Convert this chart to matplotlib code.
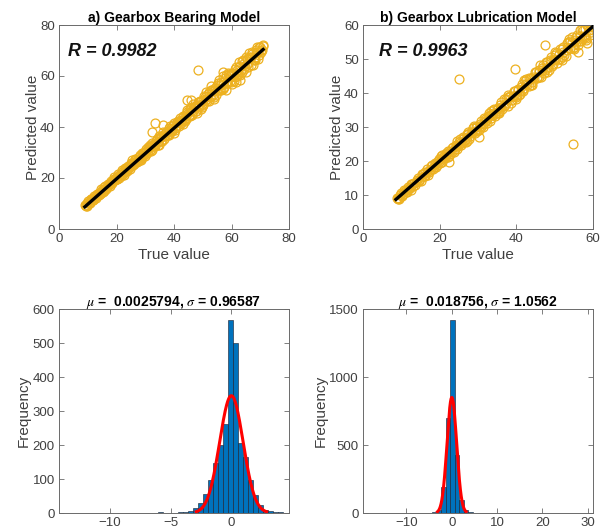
import matplotlib
matplotlib.use('Agg')
import matplotlib.pyplot as plt
import numpy as np

plt.rcParams['font.family'] = ['Liberation Sans', 'DejaVu Sans']
plt.rcParams['mathtext.fontset'] = 'stix'

# ---------------- data ----------------
# panel a: (true value, prediction offset)
pairs_a = [
    (9.1,0.3),(9.6,-0.5),(10.2,0.6),(10.9,-0.2),(11.3,0.4),(11.9,-0.7),(12.6,0.1),(13.1,0.6),(13.8,-0.4),(14.2,-0.6),
    (14.9,0.3),(15.5,-0.5),(16.0,0.8),(16.7,-0.2),(17.3,0.5),(17.8,-0.9),(18.4,0.1),(19.1,0.7),(19.6,-0.4),(20.3,-0.8),
    (20.8,0.4),(21.5,-0.7),(22.0,1.0),(22.6,-0.3),(23.3,0.6),(23.8,-1.0),(24.5,0.2),(25.0,0.8),(25.7,-0.5),(26.2,-0.9),
    (26.8,0.5),(27.5,-0.8),(28.0,1.1),(28.7,-0.3),(29.2,0.7),(29.9,-1.2),(30.4,0.2),(31.0,1.0),(31.7,-0.6),(32.2,-1.1),
    (32.9,0.5),(33.4,-0.9),(34.1,1.3),(34.6,-0.3),(35.2,0.8),(35.9,-1.4),(36.4,0.2),(37.1,1.1),(37.6,-0.6),(38.2,-1.2),
    (38.9,0.6),(39.4,-1.0),(40.1,1.4),(40.6,-0.4),(41.3,0.9),(41.8,-1.5),(42.4,0.2),(43.1,1.2),(43.6,-0.7),(44.3,-1.3),
    (44.8,0.6),(45.5,-1.1),(46.0,1.6),(46.6,-0.4),(47.3,1.0),(47.8,-1.7),(48.5,0.3),(49.0,1.3),(49.7,-0.8),(50.2,-1.5),
    (50.8,0.8),(51.5,-1.4),(52.0,1.9),(52.7,-0.5),(53.2,1.2),(53.9,-2.0),(54.4,0.3),(55.0,1.6),(55.7,-1.0),(56.2,-1.8),
    (56.9,0.9),(57.4,-1.6),(58.1,2.1),(58.6,-0.6),(59.2,1.4),(59.9,-2.2),(60.4,0.4),(61.1,1.7),(61.6,-1.1),(62.3,-2.0),
    (62.8,1.0),(63.5,-1.8),(64.0,2.2),(64.6,-0.7),(65.3,1.4),(65.8,-2.4),(66.5,0.4),(67.0,1.6),(67.7,-1.2),(68.2,-2.1),
    (68.8,0.8),(69.5,-1.3),(70.0,1.2),(70.6,-0.5),(71.0,0.6),
    (9.4,0.0),(10.5,-0.3),(11.6,0.2),(12.9,-0.1),(14.0,0.2),(15.2,0.0),(16.4,-0.3),(17.6,0.3),(18.8,-0.1),(19.9,0.2),
    (21.2,-0.2),(22.3,0.3),(23.5,0.0),(24.8,-0.4),(26.0,0.3),(27.2,0.0),(28.4,-0.4),(29.6,0.4),(30.8,-0.2),(32.0,0.4),
    (33.2,-0.3),(34.4,0.0),(35.6,0.5),(36.8,-0.5),(38.0,0.3),(39.2,0.0),(40.4,-0.6),(41.6,0.5),(42.8,-0.2),(44.0,0.6),
    (45.2,-0.5),(46.4,0.1),(47.6,0.6),(48.8,-0.6),(50.0,0.4),(51.2,-0.1),(52.4,-0.8),(53.6,0.6),(54.8,-0.4),(56.0,0.5),
    (57.2,-0.3),(58.4,-1.0),(59.6,0.7),(60.8,-0.6),(62.0,0.3),(63.2,-1.0),(64.4,0.8),(65.6,-0.5),(66.8,0.5),(68.0,-0.6),
    (69.2,0.3),(70.3,-0.2),
    (9.3,-0.2),(9.9,0.4),(10.7,-0.6),(11.1,0.7),(11.7,-0.3),(12.3,0.5),(12.8,-0.8),(13.4,0.3),(14.5,-0.2),(14.7,0.8),
    (15.3,-0.8),(15.8,0.5),(16.2,-0.6),(16.9,0.9),(17.5,-0.3),(18.1,0.6),(18.6,-0.7),(19.3,0.4),(20.0,-0.5),(20.6,0.9),
    (21.0,-0.9),(21.8,0.6),(22.2,-0.6),(22.9,1.0),(23.6,-0.4),(24.1,0.7),(24.6,-1.1),(25.3,0.5),(25.9,-0.3),(26.5,1.1),
    (27.0,-0.6),(27.8,0.4),(28.2,-1.0),(28.9,0.9),(29.4,-0.5),(30.1,1.2),(30.6,-0.9),(31.3,0.5),(31.9,-1.3),(32.5,1.1),
    (33.0,-0.5),(33.7,0.7),(34.3,-1.2),(34.9,1.4),(35.4,-0.7),(36.1,0.9),(36.6,-1.5),(37.3,0.6),(37.9,-0.9),(38.4,1.4),
    (39.1,-0.6),(39.7,1.0),(40.3,-1.6),(40.9,0.9),(41.5,-0.8),(42.1,1.5),(42.6,-1.2),(43.3,0.6),(43.9,-1.6),(44.6,1.2),
    (45.1,-0.7),(45.7,1.7),(46.3,-1.4),(46.9,0.8),(47.5,-1.2),(48.2,1.6),(48.7,-1.0),(49.3,0.9),(49.9,-1.9),(50.5,1.5),
    (51.1,-0.6),(51.7,1.1),(52.3,-2.0),(52.9,1.8),(53.5,-1.1),(54.2,0.9),(54.7,-2.2),(55.3,1.9),(55.9,-1.5),(56.5,1.2),
    (57.1,-2.3),(57.7,1.7),(58.3,-0.9),(58.9,2.3),(59.5,-1.6),(60.1,1.0),(60.7,-2.5),(61.4,2.1),(61.9,-1.4),(62.5,0.9),
    (63.1,-2.8),(63.8,1.9),(64.3,-1.5),(64.9,2.4),(65.5,-0.9),(66.2,1.1),(66.8,-2.6),(67.3,2.3),(67.9,-1.7),(68.5,1.5),
    (69.1,-2.3),(69.7,1.8),(70.3,-0.9),(70.8,1.3),
    (36.0,2.0),(40.0,-2.2),(44.5,2.3),(48.0,-2.6),(51.0,2.6),(54.0,-3.0),(57.0,3.0),(60.0,-3.3),(62.5,2.8),(63.0,-4.6),
    (65.0,-3.6),(66.0,3.0),(67.5,-3.2),(69.0,2.2),(61.5,-3.8),(58.0,-3.4),(55.5,2.8),(53.0,3.0),(49.5,-2.4),(46.5,2.4),
    (43.0,-2.0),(38.5,1.8),(34.8,-1.8),(31.5,1.6),(28.5,-1.5),(25.5,1.4),(22.5,-1.3),(19.0,1.2),
    (48.5,13.9),(33.4,8.0),(32.2,6.0),(36.3,4.5),(44.4,6.2),(45.8,4.6),(57.0,4.5),(61.2,-1.5),
]

# panel b: (true value, prediction offset)
pairs_b = [
    (8.8,0.2),(9.3,-0.4),(9.9,0.6),(10.4,-0.2),(10.9,0.4),(11.5,-0.6),(12.0,0.1),(12.6,0.5),(13.1,-0.4),(13.6,-0.7),
    (14.2,0.3),(14.7,-0.5),(15.3,0.8),(15.8,-0.2),(16.3,0.5),(16.9,-0.9),(17.4,0.1),(18.0,0.7),(18.5,-0.4),(19.0,-0.8),
    (19.6,0.4),(20.1,-0.7),(20.7,1.0),(21.2,-0.3),(21.7,0.6),(22.3,-1.0),(22.8,0.2),(23.4,0.8),(23.9,-0.5),(24.4,-0.9),
    (25.0,0.5),(25.5,-0.8),(26.1,1.0),(26.6,-0.3),(27.1,0.7),(27.7,-1.1),(28.2,0.2),(28.8,0.9),(29.3,-0.6),(29.8,-1.0),
    (30.4,0.5),(30.9,-0.9),(31.5,1.1),(32.0,-0.3),(32.5,0.8),(33.1,-1.2),(33.6,0.2),(34.2,1.0),(34.7,-0.6),(35.2,-1.1),
    (35.8,0.6),(36.3,-1.0),(36.9,1.2),(37.4,-0.4),(37.9,0.9),(38.5,-1.3),(39.0,0.2),(39.6,1.1),(40.1,-0.7),(40.6,-1.2),
    (41.2,0.6),(41.7,-1.1),(42.3,1.3),(42.8,-0.4),(43.3,1.0),(43.9,-1.4),(44.4,0.3),(45.0,1.2),(45.5,-0.8),(46.0,-1.3),
    (46.6,0.8),(47.1,-1.2),(47.7,1.4),(48.2,-0.5),(48.7,1.1),(49.3,-1.5),(49.8,0.3),(50.4,1.3),(50.9,-0.9),(51.4,-1.4),
    (52.0,0.9),(52.5,-1.3),(53.1,1.5),(53.6,-0.5),(54.1,1.2),(54.7,-1.6),(55.2,0.4),(55.8,1.4),(56.3,-1.0),(56.8,-1.5),
    (57.4,1.0),(57.9,-1.4),(58.5,1.6),(59.0,-0.6),(59.5,1.2),(60.1,-1.7),(60.6,0.4),(61.2,1.3),
    (9.1,0.0),(10.1,-0.1),(11.2,0.2),(12.3,-0.2),(13.4,0.1),(14.5,0.0),(15.5,-0.3),(16.6,0.3),(17.7,-0.1),(18.8,0.2),
    (19.8,-0.2),(20.9,0.3),(22.0,0.0),(23.1,-0.4),(24.2,0.3),(25.2,0.0),(26.3,-0.4),(27.4,0.4),(28.5,-0.2),(29.6,0.4),
    (30.6,-0.3),(31.7,0.0),(32.8,0.5),(33.9,-0.5),(35.0,0.3),(36.0,0.0),(37.1,-0.5),(38.2,0.5),(39.3,-0.2),(40.4,0.5),
    (41.4,-0.5),(42.5,0.1),(43.6,0.5),(44.7,-0.5),(45.8,0.3),(46.8,-0.1),(47.9,-0.6),(49.0,0.5),(50.1,-0.3),(51.2,0.4),
    (52.2,-0.2),(53.3,-0.7),(54.4,0.6),(55.5,-0.5),(56.6,0.3),(57.6,-0.8),(58.7,0.6),(59.8,-0.3),
    (9.0,-0.3),(9.6,0.4),(10.2,-0.6),(10.7,0.7),(11.3,-0.3),(11.8,0.5),(12.4,-0.8),(12.9,0.3),(13.9,-0.2),(14.4,0.7),
    (15.0,-0.8),(15.6,0.5),(16.1,-0.6),(16.7,0.9),(17.2,-0.3),(17.8,0.6),(18.3,-0.7),(18.9,0.4),(19.4,-0.5),(19.9,0.8),
    (20.5,-0.9),(21.0,0.6),(21.5,-0.6),(22.1,0.9),(22.6,-0.4),(23.2,0.7),(23.7,-1.0),(24.3,0.5),(24.8,-0.3),(25.4,1.0),
    (25.9,-0.6),(26.4,0.4),(27.0,-1.0),(27.5,0.9),(28.0,-0.5),(28.6,1.1),(29.1,-0.9),(29.7,0.5),(30.2,-1.2),(30.7,1.0),
    (31.3,-0.5),(31.8,0.7),(32.4,-1.1),(32.9,1.2),(33.4,-0.7),(34.0,0.9),(34.5,-1.3),(35.1,0.6),(35.6,-0.9),(36.1,1.3),
    (36.7,-0.6),(37.2,1.0),(37.7,-1.4),(38.3,0.9),(38.8,-0.8),(39.4,1.3),(39.9,-1.1),(40.5,0.6),(41.0,-1.4),(41.5,1.2),
    (42.1,-0.7),(42.6,1.5),(43.2,-1.2),(43.7,0.8),(44.2,-1.1),(44.8,1.4),(45.3,-1.0),(45.9,0.9),(46.4,-1.6),(46.9,1.3),
    (47.5,-0.6),(48.0,1.1),(48.5,-1.7),(49.1,1.5),(49.6,-1.0),(50.2,0.9),(50.7,-1.8),(51.3,1.6),(51.8,-1.3),(52.3,1.2),
    (52.9,-1.9),(53.4,1.5),(54.0,-0.9),(54.5,1.9),(55.0,-1.5),(55.6,1.0),(56.1,-2.0),(56.7,1.8),(57.2,-1.3),(57.8,0.9),
    (58.3,-2.1),(58.9,1.7),(59.4,-1.4),(59.9,2.0),(60.5,-0.9),(61.0,-2.0),(61.5,0.5),
    (60.4,1.8),(59.2,-2.2),(58.2,-2.6),(57.0,2.0),(55.0,-2.2),(53.8,2.0),(51.8,-2.0),(50.0,2.0),(48.0,-1.8),(46.3,1.8),
    (44.0,-1.6),(42.0,1.7),(39.8,-1.5),(37.8,1.6),(35.5,-1.4),(33.3,1.4),(31.2,-1.3),(29.0,1.3),(26.8,-1.2),(24.6,1.2),
    (22.5,-1.1),(20.4,1.1),
    (25.1,18.9),(39.7,7.4),(54.9,-29.9),(47.5,6.6),(30.3,-3.3),(22.5,-2.7),(58.5,-3.9),(56.2,-4.1),
]

fit_a = {'slope': 0.995, 'intercept': -0.25, 'x0': 9.0, 'x1': 71.0}
fit_b = {'slope': 0.99, 'intercept': 0.19, 'x0': 8.6, 'x1': 61.0}
r_a = 'R = 0.9982'
r_b = 'R = 0.9963'

# error histograms
hist_a_start, hist_a_width = -14.21, 0.41
counts_a = [1, 0, 0, 0, 0, 0, 0, 0, 0, 0,
            1, 0, 0, 1, 0, 1, 0, 0, 0, 0,
            3, 0, 1, 1, 2, 4, 7, 14, 30, 57,
            98, 148, 200, 262, 568, 500, 205, 165, 97, 52,
            24, 10, 5, 3, 2, 1]
mu_a, sigma_a, fit_peak_a = 0.0025794, 0.96587, 345

hist_b_start, hist_b_width = -19.3, 1.0
counts_b = [1, 0, 0, 0, 0, 0, 0, 0, 0, 0,
            0, 1, 1, 0, 1, 4, 20, 190, 700, 1420,
            430, 95, 22, 6, 2, 1, 0, 0, 0, 0,
            0, 0, 0, 0, 0, 0, 0, 0, 0, 0,
            0, 0, 0, 0, 0, 0, 0, 0, 0, 1]
mu_b, sigma_b, fit_peak_b = 0.018756, 1.0562, 850

title_a = 'a) Gearbox Bearing Model'
title_b = 'b) Gearbox Lubrication Model'

# ---------------- figure ----------------
W, H = 602, 529
fig = plt.figure(figsize=(W / 100, H / 100), dpi=100)

def add_axes(l, t, r, b):
    return fig.add_axes([l / W, 1 - b / H, (r - l) / W, (b - t) / H])

TICK_C = '#404040'
SPINE_C = '#6a6a6a'

def style(ax):
    ax.tick_params(direction='in', length=3.5, width=0.6, top=True, right=True,
                   labelsize=9.5, color=SPINE_C, labelcolor=TICK_C, pad=3)
    for s in ax.spines.values():
        s.set_color(SPINE_C)
        s.set_linewidth(0.7)

ORANGE = '#EDB120'

def scatter_panel(ax, pairs, fit, rtext, title, lim, ticks, rpos):
    tv = np.array([p[0] for p in pairs])
    pv = tv + np.array([p[1] for p in pairs])
    ax.plot(tv, pv, 'o', mfc='none', mec=ORANGE, ms=6.4, mew=0.9, zorder=2)
    xs = np.array([fit['x0'], fit['x1']])
    ax.plot(xs, fit['slope'] * xs + fit['intercept'], color='black', lw=2.4, zorder=3)
    ax.set_xlim(0, lim)
    ax.set_ylim(0, lim)
    ax.set_xticks(ticks[0])
    ax.set_yticks(ticks[1])
    ax.set_xlabel('True value', fontsize=11, color=TICK_C, labelpad=2)
    ax.set_ylabel('Predicted value', fontsize=11, color=TICK_C, labelpad=0)
    ax.set_title(title, fontsize=10, fontweight='bold', pad=2)
    ax.text(rpos[0], rpos[1], rtext, fontsize=13, fontweight='bold', style='italic',
            ha='left', va='center', color='#111111', transform=ax.transAxes)
    style(ax)

def hist_panel(ax, start, width, counts, mu, sigma, peak, xlim, ylim, xticks, yticks):
    counts = np.array(counts, dtype=float)
    edges = start + width * np.arange(len(counts) + 1)
    ax.bar(edges[:-1], counts, width=width, align='edge', color='#0072BD',
           edgecolor='#1a1a2a', linewidth=0.4, zorder=2)
    xc = np.linspace(mu - 3 * sigma, mu + 3 * sigma, 200)
    ax.plot(xc, peak * np.exp(-0.5 * ((xc - mu) / sigma) ** 2), color='#ff0000', lw=2.2, zorder=3)
    ax.set_xlim(*xlim)
    ax.set_ylim(*ylim)
    ax.set_xticks(xticks)
    ax.set_yticks(yticks)
    ax.set_ylabel('Frequency', fontsize=11, color=TICK_C, labelpad=1)
    ax.set_title(r'$\mu$ =  %s, $\sigma$ = %s' % (repr(mu), repr(sigma)),
                 fontsize=10, fontweight='bold', pad=2)
    style(ax)

ax1 = add_axes(59, 25, 289, 229)
scatter_panel(ax1, pairs_a, fit_a, r_a, title_a, 80,
              ([0, 20, 40, 60, 80], [0, 20, 40, 60, 80]), (0.04, 0.87))

ax2 = add_axes(363, 25, 593, 229)
scatter_panel(ax2, pairs_b, fit_b, r_b, title_b, 60,
              ([0, 20, 40, 60], [0, 10, 20, 30, 40, 50, 60]), (0.07, 0.87))

ax3 = add_axes(59, 309, 289, 513)
hist_panel(ax3, hist_a_start, hist_a_width, counts_a, mu_a, sigma_a, fit_peak_a,
           (-14.2, 4.75), (0, 600), [-10, -5, 0], [0, 100, 200, 300, 400, 500, 600])

ax4 = add_axes(363, 309, 593, 513)
hist_panel(ax4, hist_b_start, hist_b_width, counts_b, mu_b, sigma_b, fit_peak_b,
           (-19.6, 31.2), (0, 1500), [-10, 0, 10, 20, 30], [0, 500, 1000, 1500])

fig.savefig('out.png', dpi=100)
